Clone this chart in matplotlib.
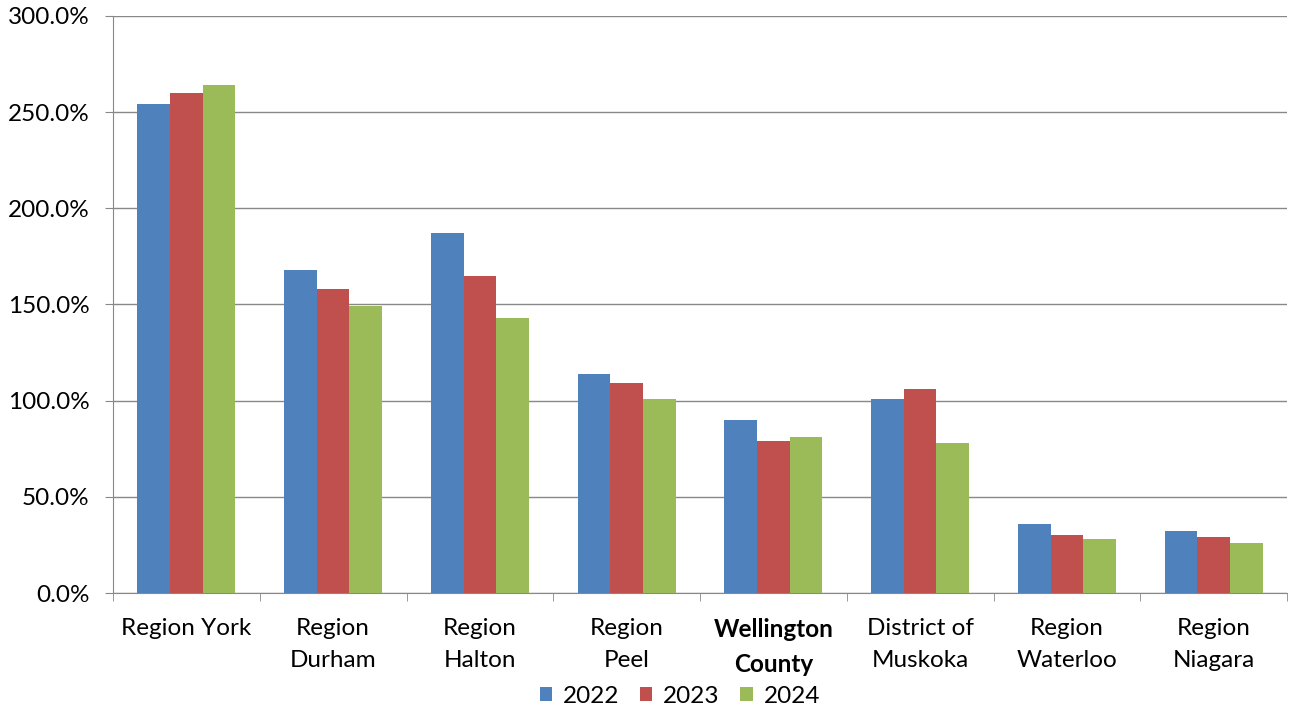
import matplotlib.pyplot as plt
import numpy as np
from matplotlib.ticker import FuncFormatter, FixedLocator

plt.rcParams['font.family'] = ['Lato', 'DejaVu Sans']

# Data
regions = ['Region York', 'Region\nDurham', 'Region\nHalton', 'Region\nPeel',
           'Wellington\nCounty', 'District of\nMuskoka', 'Region\nWaterloo', 'Region\nNiagara']
years = ['2022', '2023', '2024']
vals_2022 = [254, 168, 187, 114, 90, 101, 36, 32]
vals_2023 = [260, 158, 165, 109, 79, 106, 30, 29]
vals_2024 = [264, 149, 143, 101, 81, 78, 28, 26]
colors = ['#4F81BD', '#C0504D', '#9BBB59']

fig = plt.figure(figsize=(12.93, 7.13), dpi=100)
ax = fig.add_axes([113 / 1293, 1 - 593 / 713, 1174 / 1293, 577 / 713])

x = np.arange(len(regions))
w = 0.223
for i, (vals, yr) in enumerate(zip([vals_2022, vals_2023, vals_2024], years)):
    ax.bar(x + (i - 1) * w, vals, w, color=colors[i], label=yr, zorder=3)

ax.set_xlim(-0.5, len(regions) - 0.5)
ax.set_ylim(0, 300)
ax.set_yticks(np.arange(0, 301, 50))
ax.yaxis.set_major_formatter(FuncFormatter(lambda v, p: f'{v:.1f}%'))
ax.grid(axis='y', color='#888888', linewidth=1, zorder=0)

fs = 17.5
ax.set_xticks(x)
ax.set_xticklabels(regions, fontsize=fs, linespacing=1.65)
for lbl in ax.get_xticklabels():
    if lbl.get_text().startswith('Wellington'):
        lbl.set_fontweight('bold')
ax.tick_params(axis='x', which='major', length=0, pad=18)
ax.xaxis.set_minor_locator(FixedLocator(np.arange(-0.5, len(regions), 1)))
ax.tick_params(axis='x', which='minor', length=6, color='#888888')
ax.tick_params(axis='y', labelsize=fs, length=6, color='#888888', pad=11)

for s in ['top', 'right']:
    ax.spines[s].set_visible(False)
ax.spines['left'].set_color('#888888')
ax.spines['bottom'].set_color('#888888')

ax.legend(loc='center', bbox_to_anchor=(0.483, -0.179), ncol=3, frameon=False,
          fontsize=fs, handlelength=0.5, handleheight=0.5, handletextpad=0.45,
          columnspacing=0.85)

fig.savefig('out.png', dpi=100)
